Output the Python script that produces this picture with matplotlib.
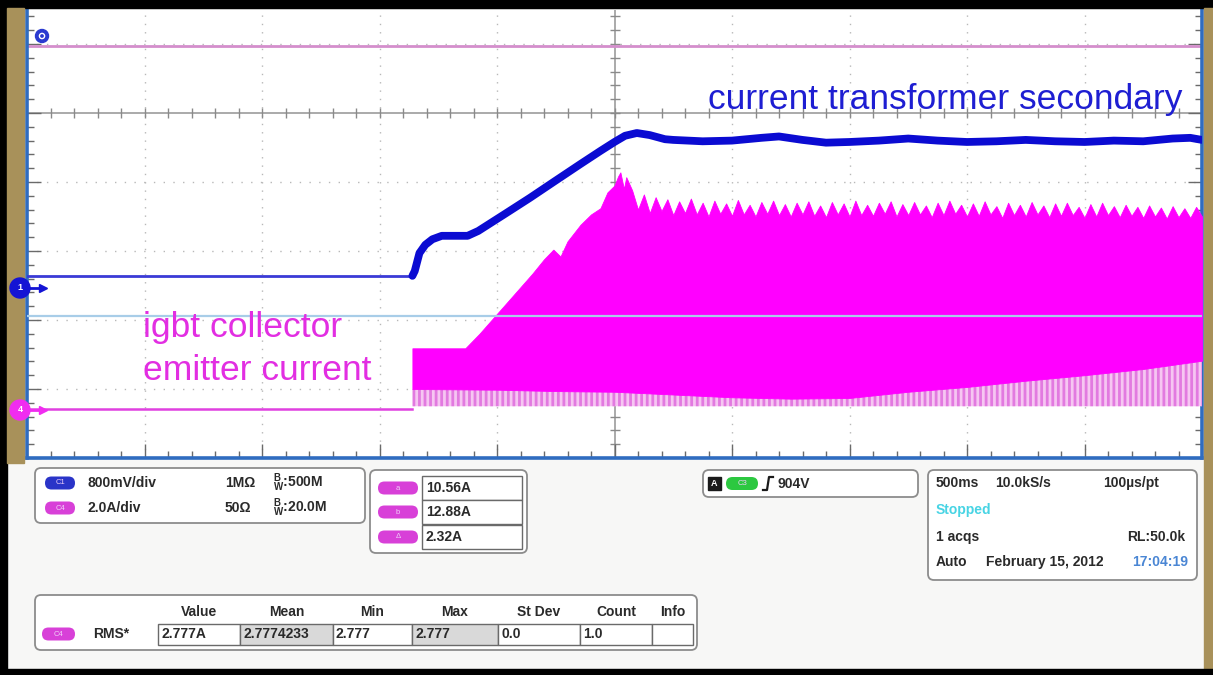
import matplotlib
matplotlib.use("Agg")
import matplotlib.pyplot as plt
from matplotlib.patches import FancyBboxPatch, Rectangle, Circle
from matplotlib.ticker import MultipleLocator
import numpy as np

plt.rcParams['font.family'] = ['Liberation Sans', 'DejaVu Sans']
plt.rcParams['hatch.linewidth'] = 2.0

# ---------------- waveform data (screen divisions) ----------------
# channel 1: current transformer secondary
ch1_t = [-5.0, -1.72, -1.70, -1.66, -1.61, -1.55, -1.47, -1.36, -1.25, -1.16,
         -0.93, -0.72, -0.51, -0.29, -0.12, 0.00, 0.09, 0.19, 0.30, 0.43,
         0.50, 0.75, 1.00, 1.25, 1.40, 1.60, 1.80, 2.00, 2.25, 2.50, 2.75,
         3.00, 3.25, 3.50, 3.75, 4.00, 4.25, 4.50, 4.75, 4.90, 5.00]
ch1_v = [-2.36, -2.36, -2.29, -2.03, -1.91, -1.83, -1.78, -1.78, -1.78, -1.71,
         -1.46, -1.23, -0.99, -0.74, -0.55, -0.42, -0.33, -0.29, -0.32, -0.38,
         -0.39, -0.41, -0.40, -0.36, -0.34, -0.39, -0.43, -0.42, -0.40, -0.37, -0.40,
         -0.42, -0.41, -0.39, -0.41, -0.42, -0.40, -0.41, -0.37, -0.36, -0.39]

# channel 4: igbt collector emitter current (idle level, then switching envelope)
ch4_idle_t = [-5.0, -1.72]
ch4_idle_v = [-4.29, -4.29]

ch4_top_t = [-1.72, -1.27, -1.15, -1.00, -0.85, -0.70, -0.60, -0.52, -0.46, -0.40,
             -0.29, -0.20, -0.12, -0.06, 0.00, 0.03, 0.05, 0.08, 0.10,
             0.15, 0.20, 0.25, 0.30, 0.35, 0.40, 0.45, 0.50, 0.55, 0.60,
             0.65, 0.70, 0.75, 0.80, 0.85, 0.90, 0.95, 1.00, 1.05, 1.10,
             1.15, 1.20, 1.25, 1.30, 1.35, 1.40, 1.45, 1.50, 1.55, 1.60,
             1.65, 1.70, 1.75, 1.80, 1.85, 1.90, 1.95, 2.00, 2.05, 2.10,
             2.15, 2.20, 2.25, 2.30, 2.35, 2.40, 2.45, 2.50, 2.55, 2.60,
             2.65, 2.70, 2.75, 2.80, 2.85, 2.90, 2.95, 3.00, 3.05, 3.10,
             3.15, 3.20, 3.25, 3.30, 3.35, 3.40, 3.45, 3.50, 3.55, 3.60,
             3.65, 3.70, 3.75, 3.80, 3.85, 3.90, 3.95, 4.00, 4.05, 4.10,
             4.15, 4.20, 4.25, 4.30, 4.35, 4.40, 4.45, 4.50, 4.55, 4.60,
             4.65, 4.70, 4.75, 4.80, 4.85, 4.90, 4.95, 5.00]
ch4_top_v = [-3.41, -3.41, -3.20, -2.91, -2.62, -2.33, -2.12, -1.98, -2.08, -1.86,
             -1.62, -1.47, -1.38, -1.15, -1.05, -0.92, -0.86, -1.10, -0.93,
             -1.12, -1.40, -1.18, -1.45, -1.22, -1.42, -1.25, -1.48, -1.28, -1.45,
             -1.24, -1.47, -1.30, -1.50, -1.27, -1.46, -1.31, -1.49, -1.26, -1.47,
             -1.33, -1.50, -1.29, -1.46, -1.27, -1.48, -1.32, -1.50, -1.30, -1.47,
             -1.28, -1.49, -1.34, -1.51, -1.29, -1.47, -1.31, -1.50, -1.27, -1.48,
             -1.33, -1.49, -1.30, -1.46, -1.28, -1.50, -1.32, -1.48, -1.29, -1.47,
             -1.34, -1.51, -1.30, -1.48, -1.27, -1.46, -1.33, -1.50, -1.31, -1.49,
             -1.28, -1.47, -1.35, -1.52, -1.30, -1.48, -1.33, -1.50, -1.29, -1.47,
             -1.34, -1.51, -1.31, -1.49, -1.30, -1.48, -1.36, -1.52, -1.32, -1.50,
             -1.30, -1.48, -1.35, -1.51, -1.33, -1.49, -1.36, -1.52, -1.34, -1.50,
             -1.37, -1.53, -1.35, -1.51, -1.38, -1.52, -1.36, -1.50]

ch4_low_t = [-1.72, -1.0, -0.5, 0.0, 0.5, 1.0, 1.5, 2.0, 2.5, 3.0, 3.5, 4.0, 4.5, 5.0]
ch4_low_v = [-4.00, -4.01, -4.03, -4.04, -4.08, -4.12, -4.14, -4.13, -4.04, -3.97,
             -3.88, -3.80, -3.71, -3.59]
ch4_floor_v = -4.25

cursor_top = 0.97        # pink cursor
cursor_mid = -2.94       # light blue cursor

# ---------------- readout panel text ----------------
ch_scale = ["800mV/div", "2.0A/div"]
ch_term = ["1MΩ", "50Ω"]
ch_bw = ["500M", "20.0M"]
cursor_vals = ["10.56A", "12.88A", "2.32A"]
trigger_level = "904V"
acq_lines = [("500ms", "10.0kS/s", "100µs/pt"), ("1 acqs", "RL:50.0k")]
acq_date = "February 15, 2012"
acq_time = "17:04:19"
meas_headers = ["Value", "Mean", "Min", "Max", "St Dev", "Count", "Info"]
meas_values = ["2.777A", "2.7774233", "2.777", "2.777", "0.0", "1.0", ""]

W, H = 1213, 675
fig = plt.figure(figsize=(W / 100, H / 100), dpi=100)
fig.patch.set_facecolor('#f7f7f6')

# ---------------- graticule ----------------
L, R, T, B = 27, 1202, 9.5, 458
ax = fig.add_axes([L / W, 1 - B / H, (R - L) / W, (B - T) / H])
ax.set_xlim(-5, 5)
ax.set_ylim(-5, 1.5)
ax.set_facecolor('white')
for v in [-4, -3, -2, -1, 1, 2, 3, 4]:
    ax.axvline(v, color='#b8b8b8', lw=1.0, ls=(0, (1, 5)), zorder=1)
for h in [-4, -3, -2, -1, 1]:
    ax.axhline(h, color='#b8b8b8', lw=1.0, ls=(0, (1, 6)), zorder=1)
ax.axhline(0, color='#9c9c9c', lw=1.2, zorder=1)
ax.axvline(0, color='#9c9c9c', lw=1.2, zorder=1)
xt = np.arange(-4.8, 5.0, 0.2)
yt = np.arange(-4.8, 1.5, 0.2)
ax.plot(xt, np.zeros_like(xt), ls='none', marker='|', ms=7, mew=1.0, color='#8a8a8a', zorder=1)
ax.plot(np.zeros_like(yt), yt, ls='none', marker='_', ms=7, mew=1.0, color='#8a8a8a', zorder=1)

ax.xaxis.set_major_locator(MultipleLocator(1))
ax.xaxis.set_minor_locator(MultipleLocator(0.2))
ax.yaxis.set_major_locator(MultipleLocator(1))
ax.yaxis.set_minor_locator(MultipleLocator(0.2))
ax.tick_params(which='both', direction='in', left=True, right=True, bottom=True, top=False,
               labelleft=False, labelbottom=False, color='#6a6a6a', width=1.0)
ax.tick_params(which='major', length=10)
ax.tick_params(which='minor', length=5)
for s in ['left', 'bottom', 'right']:
    ax.spines[s].set_color('#2f6cc0')
    ax.spines[s].set_linewidth(2.6)
ax.spines['top'].set_visible(False)

# pink cursor
ax.axhline(cursor_top, color='#d48ecc', lw=2.0, zorder=2)

# channel 4 envelope
ax.plot(ch4_idle_t, ch4_idle_v, color='#e040e0', lw=1.8, zorder=3)
low_at_top = np.interp(ch4_top_t, ch4_low_t, ch4_low_v)
ax.fill_between(ch4_low_t, ch4_floor_v, ch4_low_v, facecolor='#f6c6f2', edgecolor='#e27ae0',
                hatch='|||', lw=0, zorder=3)
ax.fill_between(ch4_top_t, low_at_top, ch4_top_v, color='#ff00ff', lw=0.6, zorder=4)

# light blue cursor
ax.axhline(cursor_mid, color='#a8cde8', lw=1.6, zorder=5)

# channel 1 trace
ax.plot(ch1_t[:2], ch1_v[:2], color='#3a3ad6', lw=2.0, zorder=6)
ax.plot(ch1_t[1:], ch1_v[1:], color='#0b0bd2', lw=5.6, solid_joinstyle='round',
        solid_capstyle='round', zorder=6)

# ---------------- overlay in pixel coordinates ----------------
ov = fig.add_axes([0, 0, 1, 1])
ov.set_xlim(0, W)
ov.set_ylim(H, 0)
ov.axis('off')

ov.add_patch(Rectangle((0, 0), W, 8, color='black', zorder=1))
ov.add_patch(Rectangle((0, 0), 7, H, color='black', zorder=1))
ov.add_patch(Rectangle((7, 8), 17, 455, color='#a8915a', zorder=1))
ov.add_patch(Rectangle((1204, 8), 9, H, color='#a8915a', zorder=1))
ov.add_patch(Rectangle((0, H - 6), W, 6, color='black', zorder=1))

# markers
ov.add_patch(Circle((42, 36), 6.5, color='#2a3ad0', zorder=5))
ov.add_patch(Circle((42, 36), 2.6, fill=False, ec='white', lw=1.0, zorder=6))
for yy, col, lab in [(288, '#1414d4', '1'), (410, '#f02cf0', '4')]:
    ov.add_patch(Circle((20, yy), 10, color=col, zorder=5))
    ov.text(20, yy, lab, color='white', fontsize=6.5, ha='center', va='center', zorder=6,
            fontweight='bold')
    ov.plot([28, 40], [yy, yy], color=col, lw=2, zorder=5)
    ov.plot([43], [yy], marker='>', ms=6, color=col, zorder=5)

ov.text(708, 100, "current transformer secondary", color='#1e1ed2', fontsize=25.5,
        ha='left', va='center', zorder=7)
ov.text(143, 327, "igbt collector", color='#e22ee2', fontsize=25.5, ha='left', va='center', zorder=7)
ov.text(143, 370, "emitter current", color='#e22ee2', fontsize=25.5, ha='left', va='center', zorder=7)

# ---------------- readout boxes ----------------
def box(x0, y0, x1, y1, r=6):
    ov.add_patch(FancyBboxPatch((x0, y0), x1 - x0, y1 - y0,
                                boxstyle=f'round,pad=0,rounding_size={r}',
                                fc='white', ec='#8c8c8c', lw=1.3, zorder=2))

def pill(x0, yc, w, col, lab, h=13):
    ov.add_patch(FancyBboxPatch((x0, yc - h / 2), w, h,
                                boxstyle=f'round,pad=0,rounding_size={h / 2}',
                                fc=col, ec='none', zorder=3))
    ov.text(x0 + w / 2, yc, lab, color='#f0d0f8', fontsize=5.5, ha='center', va='center', zorder=4)

txt_kw = dict(fontsize=10, fontweight='bold', color='#2a2a2a', va='center', zorder=4)

box(35, 468, 365, 523)
for i, (yc, col, lab) in enumerate([(483, '#2a34c8', 'C1'), (508, '#d840d8', 'C4')]):
    pill(45, yc, 30, col, lab)
    ov.text(88, yc, ch_scale[i], **txt_kw)
    ov.text(225, yc, ch_term[i], **txt_kw)
    ov.text(273, yc, r'$\mathregular{^{B}_{W}}$:' + ch_bw[i], **txt_kw)

box(370, 470, 527, 553)
for i, (yc, lab) in enumerate([(488, 'a'), (512, 'b'), (537, 'Δ')]):
    pill(378, yc, 40, '#d840d8', lab)
    ov.add_patch(Rectangle((422, yc - 12), 100, 24, fc='white', ec='#6a6a6a', lw=1.0, zorder=3))
    ov.text(426, yc, cursor_vals[i], **txt_kw)

box(703, 470, 918, 497)
ov.add_patch(Rectangle((708, 477), 13, 13, color='#1a1a1a', zorder=3))
ov.text(714.5, 483.5, 'A', color='white', fontsize=6.5, fontweight='bold', ha='center', va='center', zorder=4)
pill(726, 483.5, 32, '#2cc840', 'C3')
ov.plot([763, 767, 769, 773], [490, 490, 477, 477], color='#1a1a1a', lw=1.6, zorder=4)
ov.text(778, 483.5, trigger_level, **txt_kw)

box(928, 470, 1197, 580)
ov.text(936, 483, acq_lines[0][0], **txt_kw)
ov.text(995, 483, acq_lines[0][1], **txt_kw)
ov.text(1103, 483, acq_lines[0][2], **txt_kw)
ov.text(936, 510, "Stopped", fontsize=10, fontweight='bold', color='#48d4e4', va='center', zorder=4)
ov.text(936, 537, acq_lines[1][0], **txt_kw)
ov.text(1127, 537, acq_lines[1][1], **txt_kw)
ov.text(936, 562, "Auto", **txt_kw)
ov.text(986, 562, acq_date, **txt_kw)
ov.text(1132, 562, acq_time, fontsize=10, fontweight='bold', color='#4a86d4', va='center', zorder=4)

box(35, 595, 697, 650)
edges = [158, 240, 333, 412, 498, 580, 652, 693]
for i, hdr in enumerate(meas_headers):
    xc = (edges[i] + edges[i + 1]) / 2
    ov.text(xc, 612, hdr, ha='center', **txt_kw)
    shade = '#d9d9d9' if hdr in ('Mean', 'Max') else 'white'
    ov.add_patch(Rectangle((edges[i], 624), edges[i + 1] - edges[i], 21,
                           fc=shade, ec='#6a6a6a', lw=1.0, zorder=3))
    ov.text(edges[i] + 3, 634.5, meas_values[i], **txt_kw)
pill(42, 634, 33, '#d840d8', 'C4')
ov.text(93, 634, "RMS*", **txt_kw)

fig.savefig("out.png", dpi=100, facecolor=fig.get_facecolor())
